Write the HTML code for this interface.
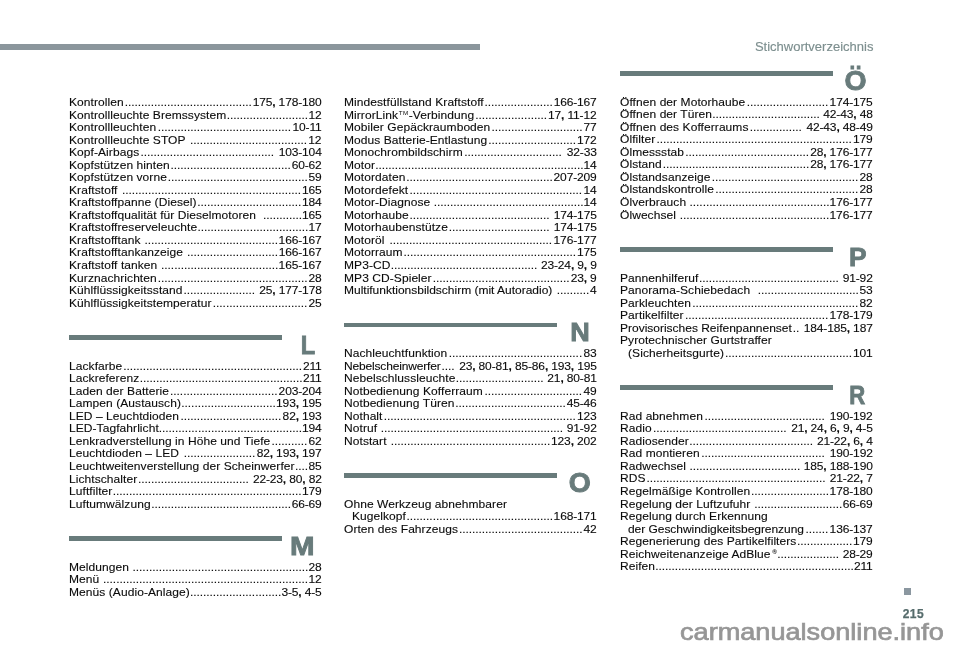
<!DOCTYPE html>
<html lang="de"><head><meta charset="utf-8"><title>Stichwortverzeichnis</title>
<style>
html,body{margin:0;padding:0;background:#fff}
body{width:960px;height:649px;position:relative;overflow:hidden;font-family:"Liberation Sans",Arial,Helvetica,sans-serif;color:#111}
.topbar{position:absolute;left:0;top:44.2px;width:480px;height:6.2px;background:#8b969c}
.hdr{position:absolute;right:86.6px;top:38.5px;font-size:13px;-webkit-text-stroke:0.15px #7d8f8f;line-height:16px;color:#7d8f8f;white-space:nowrap}
.r{position:absolute;font-size:12px;line-height:12.5px;height:12.5px;white-space:nowrap;color:#0a0a0a;letter-spacing:0.07px;transform:scaleY(0.945);transform-origin:0 10.4px;-webkit-text-stroke:0.12px #0a0a0a}
.r .d{letter-spacing:-0.08px}
.r .n{letter-spacing:-0.15px}
.r b{font-weight:bold}
.r sup{font-size:6.3px;line-height:0;vertical-align:baseline;position:relative;top:-4.4px;letter-spacing:0.4px;margin:0 0.2px 0 0.6px;-webkit-text-stroke:0;display:inline-block;transform:scaleY(0.8);transform-origin:0 100%}
.r sup.rg{font-size:6.4px;top:-4.1px;letter-spacing:0;margin:0 0 0 1.6px;transform:none;font-weight:bold}
.bar{position:absolute;width:213.6px;height:4.7px;background:#687b7b}
.big{position:absolute;left:0;top:0;pointer-events:none}
.big text{font-family:"Liberation Sans",Arial,sans-serif;font-weight:bold;font-size:27px;fill:#687b7b;stroke:#687b7b;stroke-width:0.9px}
.sq{position:absolute;left:903.5px;top:587.5px;width:7.9px;height:7.9px;background:#8b97a0}
.pg{position:absolute;left:902.7px;top:607.3px;font-weight:bold;font-size:12px;line-height:14px;letter-spacing:0.45px;color:#566c6c;-webkit-text-stroke:0.25px #566c6c}
.wm{position:absolute;left:679.6px;top:617.9px;font-size:24px;line-height:28px;color:#969696;white-space:nowrap;transform:scaleX(1.13);transform-origin:0 0;-webkit-text-stroke:0.7px #969696}
</style></head><body>
<div class="topbar"></div>
<div class="hdr">Stichwortverzeichnis</div>
<div class="r" style="left:69px;top:96px;width:254.6px">Kontrollen<span class="d" style="margin:0 1.01px">.......................................</span><span class="n">175<b>,</b> 178-180</span></div>
<div class="r" style="left:69px;top:109px;width:254.6px">Kontrollleuchte Bremssystem<span class="d" style="margin:0 0.46px">.........................</span><span class="n">12</span></div>
<div class="r" style="left:69px;top:121px;width:254.6px">Kontrollleuchten<span class="d" style="margin:0 1.47px">.........................................</span><span class="n">10-11</span></div>
<div class="r" style="left:69px;top:134px;width:254.6px">Kontrollleuchte STOP <span class="d" style="margin:0 1.21px">....................................</span><span class="n">12</span></div>
<div class="r" style="left:69px;top:146px;width:254.6px">Kopf-Airbags<span class="d" style="margin:0 1.32px">.........................................</span> <span class="n">103-104</span></div>
<div class="r" style="left:69px;top:159px;width:254.6px">Kopfstützen hinten<span class="d" style="margin:0 0.79px">.....................................</span><span class="n">60-62</span></div>
<div class="r" style="left:69px;top:171px;width:254.6px">Kopfstützen vorne<span class="d" style="margin:0 0.85px">...........................................</span><span class="n">59</span></div>
<div class="r" style="left:69px;top:184px;width:254.6px">Kraftstoff <span class="d" style="margin:0 1.07px">.......................................................</span><span class="n">165</span></div>
<div class="r" style="left:69px;top:196px;width:254.6px">Kraftstoffpanne (Diesel)<span class="d" style="margin:0 0.68px">................................</span><span class="n">184</span></div>
<div class="r" style="left:69px;top:209px;width:254.6px">Kraftstoffqualität für Dieselmotoren&nbsp; <span class="d" style="margin:0 0.06px">............</span><span class="n">165</span></div>
<div class="r" style="left:69px;top:221px;width:254.6px">Kraftstoffreserveleuchte<span class="d" style="margin:0 0.36px">..................................</span><span class="n">17</span></div>
<div class="r" style="left:69px;top:234px;width:254.6px">Kraftstofftank <span class="d" style="margin:0 0.66px">.........................................</span><span class="n">166-167</span></div>
<div class="r" style="left:69px;top:246px;width:254.6px">Kraftstofftankanzeige <span class="d" style="margin:0 0.55px">............................</span><span class="n">166-167</span></div>
<div class="r" style="left:69px;top:259px;width:254.6px">Kraftstoff tanken <span class="d" style="margin:0 0.35px">....................................</span><span class="n">165-167</span></div>
<div class="r" style="left:69px;top:272px;width:254.6px">Kurznachrichten<span class="d" style="margin:0 1.04px">..............................................</span><span class="n">28</span></div>
<div class="r" style="left:69px;top:284px;width:254.6px">Kühlflüssigkeitsstand<span class="d" style="margin:0 0.87px">......................</span> <span class="n">25<b>,</b> 177-178</span></div>
<div class="r" style="left:69px;top:297px;width:254.6px">Kühlflüssigkeitstemperatur<span class="d" style="margin:0 1.31px">.............................</span><span class="n">25</span></div>
<div class="bar" style="left:68.9px;top:335px"></div>
<div class="r" style="left:69px;top:360px;width:254.6px">Lackfarbe<span class="d" style="margin:0 0.8px">.......................................................</span><span class="n">211</span></div>
<div class="r" style="left:69px;top:372px;width:254.6px">Lackreferenz<span class="d" style="margin:0 0.5px">..................................................</span><span class="n">211</span></div>
<div class="r" style="left:69px;top:385px;width:254.6px">Laden der Batterie<span class="d" style="margin:0 1.11px">.................................</span><span class="n">203-204</span></div>
<div class="r" style="left:69px;top:397px;width:254.6px">Lampen (Austausch)<span class="d" style="margin:0 0.36px">.............................</span><span class="n">193<b>,</b> 195</span></div>
<div class="r" style="left:69px;top:410px;width:254.6px">LED – Leuchtdioden<span class="d" style="margin:0 1.36px">...............................</span><span class="n">82<b>,</b> 193</span></div>
<div class="r" style="left:69px;top:422px;width:254.6px">LED-Tagfahrlicht<span class="d" style="margin:0 0.01px">............................................</span><span class="n">194</span></div>
<div class="r" style="left:69px;top:435px;width:254.6px">Lenkradverstellung in Höhe und Tiefe<span class="d" style="margin:0 1.22px">...........</span><span class="n">62</span></div>
<div class="r" style="left:69px;top:447px;width:254.6px">Leuchtdioden – LED <span class="d" style="margin:0 1.33px">......................</span><span class="n">82<b>,</b> 193<b>,</b> 197</span></div>
<div class="r" style="left:69px;top:460px;width:254.6px">Leuchtweitenverstellung der Scheinwerfer<span class="d" style="margin:0 0.47px">....</span><span class="n">85</span></div>
<div class="r" style="left:69px;top:473px;width:254.6px">Lichtschalter<span class="d" style="margin:0 0.79px">..................................</span> <span class="n">22-23<b>,</b> 80<b>,</b> 82</span></div>
<div class="r" style="left:69px;top:485px;width:254.6px">Luftfilter<span class="d" style="margin:0 0.44px">..........................................................</span><span class="n">179</span></div>
<div class="r" style="left:69px;top:498px;width:254.6px">Luftumwälzung<span class="d" style="margin:0 0.55px">...........................................</span><span class="n">66-69</span></div>
<div class="bar" style="left:68.9px;top:536px"></div>
<div class="r" style="left:69px;top:561px;width:254.6px">Meldungen <span class="d" style="margin:0 0.2px">......................................................</span><span class="n">28</span></div>
<div class="r" style="left:69px;top:573px;width:254.6px">Menü <span class="d" style="margin:0 0.41px">...............................................................</span><span class="n">12</span></div>
<div class="r" style="left:69px;top:586px;width:254.6px">Menüs (Audio-Anlage)<span class="d" style="margin:0 0.26px">............................</span><span class="n">3-5<b>,</b> 4-5</span></div>
<div class="r" style="left:344px;top:96px;width:254.6px">Mindestfüllstand Kraftstoff<span class="d" style="margin:0 0.77px">.....................</span><span class="n">166-167</span></div>
<div class="r" style="left:344px;top:109px;width:254.6px">MirrorLink<sup>TM</sup>-Verbindung<span class="d" style="margin:0 1.09px">......................</span><span class="n">17<b>,</b> 11-12</span></div>
<div class="r" style="left:344px;top:121px;width:254.6px">Mobiler Gepäckraumboden<span class="d" style="margin:0 1.04px">............................</span><span class="n">77</span></div>
<div class="r" style="left:344px;top:134px;width:254.6px">Modus Batterie-Entlastung<span class="d" style="margin:0 1px">...........................</span><span class="n">172</span></div>
<div class="r" style="left:344px;top:146px;width:254.6px">Monochrombildschirm<span class="d" style="margin:0 1.5px">..............................</span> <span class="n">32-33</span></div>
<div class="r" style="left:344px;top:159px;width:254.6px">Motor<span class="d" style="margin:0 0.12px">................................................................</span><span class="n">14</span></div>
<div class="r" style="left:344px;top:171px;width:254.6px">Motordaten<span class="d" style="margin:0 0.88px">.............................................</span><span class="n">207-209</span></div>
<div class="r" style="left:344px;top:184px;width:254.6px">Motordefekt<span class="d" style="margin:0 1.47px">.....................................................</span><span class="n">14</span></div>
<div class="r" style="left:344px;top:196px;width:254.6px">Motor-Diagnose <span class="d" style="margin:0 0.05px">..............................................</span><span class="n">14</span></div>
<div class="r" style="left:344px;top:209px;width:254.6px">Motorhaube<span class="d" style="margin:0 0.8px">...........................................</span> <span class="n">174-175</span></div>
<div class="r" style="left:344px;top:221px;width:254.6px">Motorhaubenstütze<span class="d" style="margin:0 0.74px">...............................</span> <span class="n">174-175</span></div>
<div class="r" style="left:344px;top:234px;width:254.6px">Motoröl <span class="d" style="margin:0 1.49px">..................................................</span><span class="n">176-177</span></div>
<div class="r" style="left:344px;top:246px;width:254.6px">Motorraum<span class="d" style="margin:0 0.95px">.....................................................</span><span class="n">175</span></div>
<div class="r" style="left:344px;top:259px;width:254.6px">MP3-CD<span class="d" style="margin:0 0.34px">.............................................</span> <span class="n">23-24<b>,</b> 9<b>,</b> 9</span></div>
<div class="r" style="left:344px;top:272px;width:254.6px">MP3 CD-Spieler<span class="d" style="margin:0 1.15px">..........................................</span><span class="n">23<b>,</b> 9</span></div>
<div class="r" style="left:344px;top:284px;width:254.6px"><span style="letter-spacing:-0.01px">Multifunktionsbildschirm (mit Autoradio)</span> <span class="d" style="margin:0 0.89px">..........</span><span class="n">4</span></div>
<div class="bar" style="left:343.9px;top:322.5px"></div>
<div class="r" style="left:344px;top:347px;width:254.6px">Nachleuchtfunktion<span class="d" style="margin:0 1.4px">.........................................</span><span class="n">83</span></div>
<div class="r" style="left:344px;top:360px;width:254.6px"><span style="letter-spacing:-0.17px">Nebelscheinwerfer</span><span class="d" style="margin:0 1.11px">....</span> <span class="n">23<b>,</b> 80-81<b>,</b> 85-86<b>,</b> 193<b>,</b> 195</span></div>
<div class="r" style="left:344px;top:372px;width:254.6px">Nebelschlussleuchte<span class="d" style="margin:0 0.33px">...........................</span> <span class="n">21<b>,</b> 80-81</span></div>
<div class="r" style="left:344px;top:385px;width:254.6px">Notbedienung Kofferraum<span class="d" style="margin:0 1.56px">..............................</span><span class="n">49</span></div>
<div class="r" style="left:344px;top:397px;width:254.6px">Notbedienung Türen<span class="d" style="margin:0 0.78px">..................................</span><span class="n">45-46</span></div>
<div class="r" style="left:344px;top:410px;width:254.6px">Nothalt<span class="d" style="margin:0 1.26px">...........................................................</span><span class="n">123</span></div>
<div class="r" style="left:344px;top:422px;width:254.6px">Notruf <span class="d" style="margin:0 0.29px">........................................................</span> <span class="n">91-92</span></div>
<div class="r" style="left:344px;top:435px;width:254.6px">Notstart <span class="d" style="margin:0 0.82px">.................................................</span><span class="n">123<b>,</b> 202</span></div>
<div class="bar" style="left:343.9px;top:473px"></div>
<div class="r" style="left:344px;top:498px">Ohne Werkzeug abnehmbarer</div>
<div class="r" style="left:352px;top:510px;width:246.6px">Kugelkopf<span class="d" style="margin:0 0.58px">.............................................</span><span class="n">168-171</span></div>
<div class="r" style="left:344px;top:523px;width:254.6px">Orten des Fahrzeugs<span class="d" style="margin:0 0.92px">......................................</span><span class="n">42</span></div>
<div class="bar" style="left:619.9px;top:71px"></div>
<div class="r" style="left:620px;top:96px;width:254.6px">Öffnen der Motorhaube<span class="d" style="margin:0 1.46px">.........................</span><span class="n">174-175</span></div>
<div class="r" style="left:620px;top:108px;width:254.6px">Öffnen der Türen<span class="d" style="margin:0 0.22px">.................................</span> <span class="n">42-43<b>,</b> 48</span></div>
<div class="r" style="left:620px;top:121px;width:254.6px">Öffnen des Kofferraums<span class="d" style="margin:0 1.22px">................</span> <span class="n">42-43<b>,</b> 48-49</span></div>
<div class="r" style="left:620px;top:133px;width:254.6px">Ölfilter<span class="d" style="margin:0 1.27px">............................................................</span><span class="n">179</span></div>
<div class="r" style="left:620px;top:146px;width:254.6px">Ölmessstab<span class="d" style="margin:0 1.24px">......................................</span><span class="n">28<b>,</b> 176-177</span></div>
<div class="r" style="left:620px;top:158px;width:254.6px">Ölstand<span class="d" style="margin:0 0.95px">.............................................</span><span class="n">28<b>,</b> 176-177</span></div>
<div class="r" style="left:620px;top:171px;width:254.6px">Ölstandsanzeige<span class="d" style="margin:0 1.33px">.............................................</span><span class="n">28</span></div>
<div class="r" style="left:620px;top:183px;width:254.6px">Ölstandskontrolle<span class="d" style="margin:0 1.23px">............................................</span><span class="n">28</span></div>
<div class="r" style="left:620px;top:196px;width:254.6px">Ölverbrauch <span class="d" style="margin:0 0.07px">...........................................</span><span class="n">176-177</span></div>
<div class="r" style="left:620px;top:209px;width:254.6px">Ölwechsel <span class="d" style="margin:0 0.26px">..............................................</span><span class="n">176-177</span></div>
<div class="bar" style="left:619.9px;top:247px"></div>
<div class="r" style="left:620px;top:272px;width:254.6px">Pannenhilferuf<span class="d" style="margin:0 0.51px">...........................................</span> <span class="n">91-92</span></div>
<div class="r" style="left:620px;top:284px;width:254.6px">Panorama-Schiebedach&nbsp; <span class="d" style="margin:0 0.86px">...............................</span><span class="n">53</span></div>
<div class="r" style="left:620px;top:297px;width:254.6px">Parkleuchten<span class="d" style="margin:0 1.35px">...................................................</span><span class="n">82</span></div>
<div class="r" style="left:620px;top:309px;width:254.6px">Partikelfilter<span class="d" style="margin:0 1.38px">............................................</span><span class="n">178-179</span></div>
<div class="r" style="left:620px;top:322px;width:254.6px"><span style="letter-spacing:-0.01px">Provisorisches Reifenpannenset</span><span class="d" style="margin:0 1.02px">..</span> <span class="n">184-185<b>,</b> 187</span></div>
<div class="r" style="left:620px;top:334px">Pyrotechnischer Gurtstraffer</div>
<div class="r" style="left:628px;top:347px;width:246.6px">(Sicherheitsgurte)<span class="d" style="margin:0 1.07px">.......................................</span><span class="n">101</span></div>
<div class="bar" style="left:619.9px;top:385.05px"></div>
<div class="r" style="left:620px;top:410px;width:254.6px">Rad abnehmen<span class="d" style="margin:0 1.48px">.....................................</span> <span class="n">190-192</span></div>
<div class="r" style="left:620px;top:422px;width:254.6px">Radio<span class="d" style="margin:0 1.31px">.........................................</span> <span class="n">21<b>,</b> 24<b>,</b> 6<b>,</b> 9<b>,</b> 4-5</span></div>
<div class="r" style="left:620px;top:435px;width:254.6px">Radiosender<span class="d" style="margin:0 0.53px">......................................</span> <span class="n">21-22<b>,</b> 6<b>,</b> 4</span></div>
<div class="r" style="left:620px;top:447px;width:254.6px">Rad montieren<span class="d" style="margin:0 1.5px">......................................</span> <span class="n">190-192</span></div>
<div class="r" style="left:620px;top:460px;width:254.6px">Radwechsel <span class="d" style="margin:0 0.11px">..................................</span> <span class="n">185<b>,</b> 188-190</span></div>
<div class="r" style="left:620px;top:472px;width:254.6px">RDS<span class="d" style="margin:0 0.95px">.......................................................</span> <span class="n">21-22<b>,</b> 7</span></div>
<div class="r" style="left:620px;top:485px;width:254.6px">Regelmäßige Kontrollen<span class="d" style="margin:0 0.62px">........................</span><span class="n">178-180</span></div>
<div class="r" style="left:620px;top:498px;width:254.6px">Regelung der Luftzufuhr <span class="d" style="margin:0 0.51px">...........................</span><span class="n">66-69</span></div>
<div class="r" style="left:620px;top:510px">Regelung durch Erkennung</div>
<div class="r" style="left:628px;top:523px;width:246.6px"><span style="letter-spacing:-0.05px">der Geschwindigkeitsbegrenzung</span><span class="d" style="margin:0 1.45px">.......</span><span class="n">136-137</span></div>
<div class="r" style="left:620px;top:535px;width:254.6px">Regenerierung des Partikelfilters<span class="d" style="margin:0 0.65px">.................</span><span class="n">179</span></div>
<div class="r" style="left:620px;top:548px;width:254.6px">Reichweitenanzeige AdBlue<sup class="rg">®</sup><span class="d" style="margin:0 0.3px">...................</span> <span class="n">28-29</span></div>
<div class="r" style="left:620px;top:560px;width:254.6px">Reifen<span class="d" style="margin:0 0.15px">.............................................................</span><span class="n">211</span></div>
<svg class="big" width="960" height="649" viewBox="0 0 960 649"><text transform="translate(300.87 353.61) scale(0.8736 0.9776)">L</text><text transform="translate(290.08 554.65) scale(1.0915 0.9798)">M</text><text transform="translate(570.24 341.45) scale(1.0015 0.9851)">N</text><text transform="translate(568.69 492.28) scale(1.0498 1.0149)">O</text><text transform="translate(844.59 89.98) scale(1.0498 0.9992)">Ö</text><text transform="translate(848.99 265.61) scale(0.9750 0.9776)">P</text><text transform="translate(849.17 403.61) scale(0.8179 0.9776)">R</text></svg>
<div class="sq"></div>
<div class="pg">215</div>
<div class="wm">carmanualsonline.info</div>
</body></html>
